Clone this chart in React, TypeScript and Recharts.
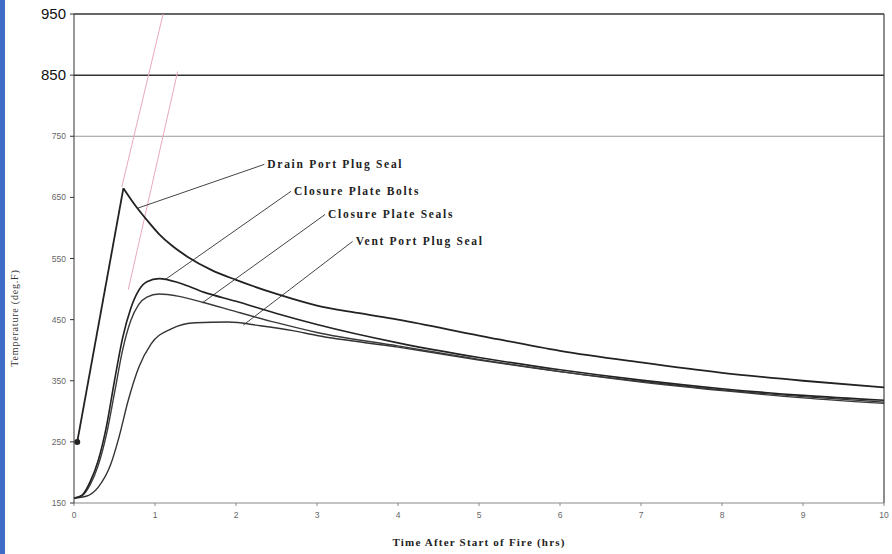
import { LineChart, Line, XAxis, YAxis, ReferenceLine, ReferenceDot } from "recharts"

// hours after start of fire / temperature (deg F)
const drainRiseHours = [0.04, 0.61]
const drainRiseTemps = [250, 665]
const drainFallHours = [0.61, 0.75, 0.9, 1.05, 1.2, 1.4, 1.7, 2, 2.5, 3, 3.5, 4, 5, 6, 7, 8, 9, 10]
const drainFallTemps = [665, 638, 613, 590, 572, 553, 531, 515, 492, 473, 461, 450, 424, 399, 380, 363, 350, 339]

const boltsHours = [0, 0.1, 0.2, 0.3, 0.4, 0.5, 0.6, 0.7, 0.8, 0.9, 1.05, 1.3, 1.6, 2, 2.5, 3, 4, 5, 6, 7, 8, 9, 10]
const boltsTemps = [158, 163, 185, 220, 275, 350, 420, 468, 498, 512, 517, 510, 495, 480, 460, 442, 412, 388, 368, 351, 337, 326, 318]

const sealsHours = [0, 0.1, 0.2, 0.3, 0.4, 0.5, 0.6, 0.7, 0.8, 0.9, 1.05, 1.3, 1.6, 2, 2.5, 3, 4, 5, 6, 7, 8, 9, 10]
const sealsTemps = [158, 162, 180, 212, 262, 330, 400, 448, 475, 487, 492, 488, 478, 463, 445, 429, 407, 385, 365, 348, 334, 322, 313]

const ventHours = [0, 0.15, 0.3, 0.45, 0.55, 0.67, 0.8, 0.95, 1.2, 1.5, 1.9, 2.3, 2.7, 3, 4, 5, 6, 7, 8, 9, 10]
const ventTemps = [158, 161, 176, 212, 255, 318, 372, 410, 435, 445, 446, 440, 432, 424, 405, 384, 365, 349, 335, 324, 315]

const xTicks = [0, 1, 2, 3, 4, 5, 6, 7, 8, 9, 10]
const yTicks = [150, 250, 350, 450, 550, 650, 750, 850, 950]
const bigTicks = [850, 950]

// callouts: label text, label anchor (hrs, degF), point on the curve
const calloutNames = ["Drain Port Plug Seal", "Closure Plate Bolts", "Closure Plate Seals", "Vent Port Plug Seal"]
const calloutLabelAt = [[2.35, 704], [2.68, 660], [3.1, 622], [3.44, 578]]
const calloutCurveAt = [[0.78, 632], [1.12, 515], [1.58, 477], [2.09, 441]]

// faint pink construction lines
const pinkFrom = [[0.59, 667], [0.67, 499]]
const pinkTo = [[1.1, 950], [1.28, 856]]

const toPoints = (hours: number[], temps: number[]) => hours.map((t, i) => ({ t, v: temps[i] }))

const drainRise = toPoints(drainRiseHours, drainRiseTemps)
const drainFall = toPoints(drainFallHours, drainFallTemps)
const bolts = toPoints(boltsHours, boltsTemps)
const seals = toPoints(sealsHours, sealsTemps)
const vent = toPoints(ventHours, ventTemps)

function YTick(props: any) {
  const { x, y, payload } = props
  const big = bigTicks.includes(payload.value)
  return (
    <text
      x={x - 2}
      y={y}
      dy={big ? 5 : 3}
      textAnchor="end"
      fontFamily="Liberation Sans, Arial, sans-serif"
      fontSize={big ? 15 : 8.5}
      fill={big ? "#111" : "#666"}
    >
      {payload.value}
    </text>
  )
}

function CalloutText(name: string) {
  return (props: any) => {
    const vb = props.viewBox || {}
    const x = (vb.x || 0) + (vb.width || 0) / 2
    const y = (vb.y || 0) + (vb.height || 0) / 2
    return (
      <text
        x={x + 3}
        y={y + 4}
        fontFamily="Liberation Serif, Times New Roman, serif"
        fontWeight="bold"
        fontSize={11.5}
        letterSpacing={1.7}
        fill="#222"
      >
        {name}
      </text>
    )
  }
}

function StartDot(props: any) {
  const { cx, cy, index } = props
  if (index !== 0) return <g key={`d${index}`} />
  return <circle key={`d${index}`} cx={cx} cy={cy} r={3} fill="#222" />
}

export default function App() {
  return (
    <div style={{ position: "absolute", left: 0, top: 0, width: 892, height: 554, background: "#fff" }}>
      <div style={{ position: "absolute", left: 0, top: 0, width: 5, height: 554, background: "#3f6cc6" }} />
      <LineChart width={892} height={554} margin={{ top: 14, right: 8, bottom: 6, left: 0 }}>
        <XAxis
          type="number"
          dataKey="t"
          domain={[0, 10]}
          ticks={xTicks}
          interval={0}
          tickSize={3}
          tickMargin={6}
          tick={{ fontSize: 8.5, fill: "#666", fontFamily: "Liberation Sans, sans-serif" }}
          stroke="#888"
          height={45}
          label={{
            value: "Time After Start of Fire (hrs)",
            position: "insideBottom",
            offset: 2,
            fontFamily: "Liberation Serif, Times New Roman, serif",
            fontWeight: "bold",
            fontSize: 11,
            letterSpacing: 1.2,
            fill: "#222",
          }}
        />
        <YAxis
          type="number"
          domain={[150, 950]}
          ticks={yTicks}
          interval={0}
          width={74}
          tickSize={4}
          stroke="#333"
          tick={<YTick />}
          label={() => (
            <text
              x={18}
              y={318}
              transform="rotate(-90 18 318)"
              textAnchor="middle"
              fontFamily="Liberation Serif, Times New Roman, serif"
              fontSize={10}
              letterSpacing={0.8}
              fill="#333"
            >
              Temperature (deg.F)
            </text>
          )}
        />

        <ReferenceLine y={950} stroke="#333" strokeWidth={1.5} />
        <ReferenceLine y={850} stroke="#333" strokeWidth={1.5} />
        <ReferenceLine y={750} stroke="#999" strokeWidth={1} />
        <ReferenceLine x={10} stroke="#444" strokeWidth={1.2} />

        {pinkFrom.map((p, i) => (
          <ReferenceLine
            key={`pink${i}`}
            segment={[{ x: p[0], y: p[1] }, { x: pinkTo[i][0], y: pinkTo[i][1] }]}
            stroke="#e9a9b8"
            strokeWidth={1}
          />
        ))}

        {calloutNames.map((name, i) => (
          <ReferenceLine
            key={`lead${i}`}
            segment={[
              { x: calloutLabelAt[i][0], y: calloutLabelAt[i][1] },
              { x: calloutCurveAt[i][0], y: calloutCurveAt[i][1] },
            ]}
            stroke="#444"
            strokeWidth={1}
          />
        ))}
        {calloutNames.map((name, i) => (
          <ReferenceDot
            key={`lab${i}`}
            x={calloutLabelAt[i][0]}
            y={calloutLabelAt[i][1]}
            r={0}
            stroke="none"
            fill="none"
            label={CalloutText(name)}
          />
        ))}

        <Line data={vent} dataKey="v" type="monotone" stroke="#333" strokeWidth={1.4} dot={false} isAnimationActive={false} />
        <Line data={seals} dataKey="v" type="monotone" stroke="#3a3a3a" strokeWidth={1.4} dot={false} isAnimationActive={false} />
        <Line data={bolts} dataKey="v" type="monotone" stroke="#222" strokeWidth={1.6} dot={false} isAnimationActive={false} />
        <Line data={drainRise} dataKey="v" type="linear" stroke="#222" strokeWidth={1.8} dot={<StartDot />} isAnimationActive={false} />
        <Line data={drainFall} dataKey="v" type="monotone" stroke="#222" strokeWidth={1.8} dot={false} isAnimationActive={false} />
      </LineChart>
    </div>
  )
}
